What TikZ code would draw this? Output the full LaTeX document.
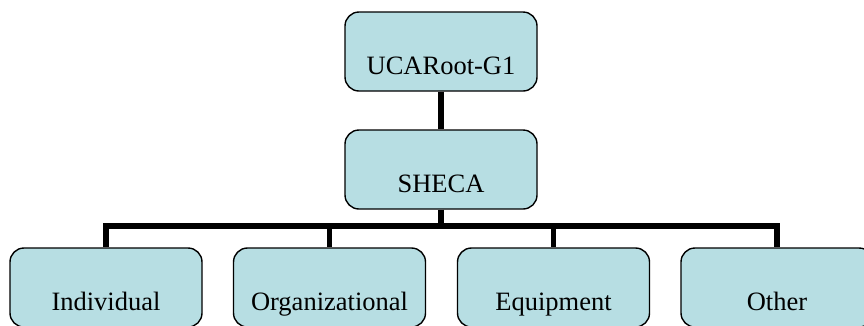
\documentclass[tikz,border=0pt]{standalone}
\usepackage{fontspec}
\setmainfont{Liberation Serif}
\definecolor{boxfill}{HTML}{B7DEE3}
\begin{document}
\begin{tikzpicture}[x=1pt, y=-1pt]
	\tikzstyle{unit_box} = [rectangle, rounded corners=14pt, draw=black, line width=1.4pt, fill=boxfill, minimum width=192pt, minimum height=79pt, inner sep=0pt, text height=62pt, text depth=17pt, font=\fontsize{26.5}{30}\selectfont]
	\tikzstyle{tree_line} = [draw=black, line width=5.5pt]

	\useasboundingbox (0,0) rectangle (864,325);
	\clip (0,0) rectangle (864,325);

%------------------------------------------------------------
	\node[unit_box] (root) at (441,51.5) {UCARoot-G1};
	\node[unit_box] (sheca) at (441,169.5) {SHECA};

	\path[tree_line] (root) -- (sheca);
%------------------------------------------------------------

	\node[unit_box] (ind) at (106,287.5) {Individual};
	\node[unit_box] (org) at (329.5,287.5) {Organizational};
	\node[unit_box] (equ) at (553.5,287.5) {Equipment};
	\node[unit_box] (oth) at (777,287.5) {Other};

%------------------------------------------------------------

	\coordinate (bus) at (441,226);
	\path[tree_line] (sheca) -- (bus);
	\path[tree_line] (bus) -| (ind.north);
	\path[tree_line] (bus) -| (org.north);
	\path[tree_line] (bus) -| (equ.north);
	\path[tree_line] (bus) -| (oth.north);

\end{tikzpicture}
\end{document}
